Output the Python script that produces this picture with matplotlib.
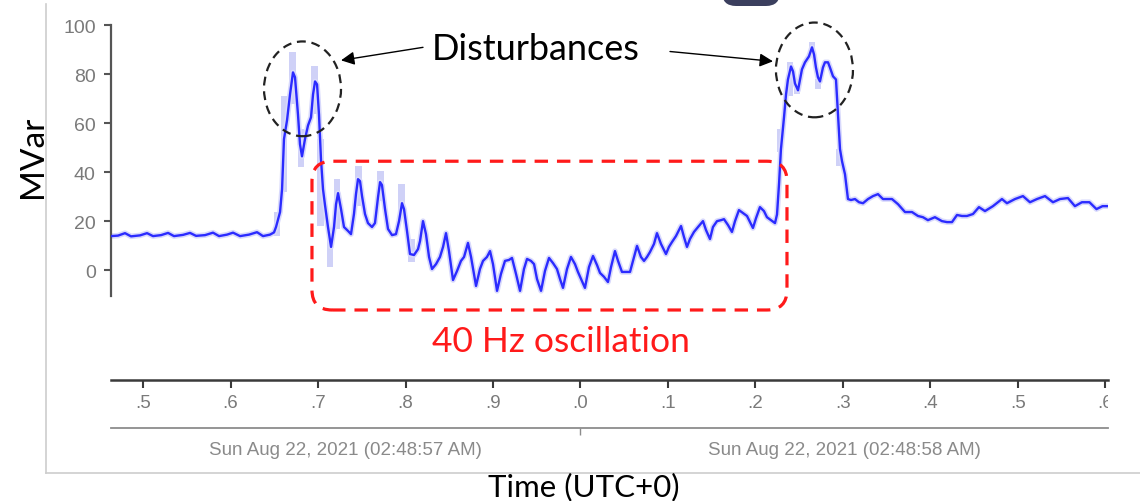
import numpy as np
import matplotlib
matplotlib.use("Agg")
import matplotlib.pyplot as plt
from matplotlib.patches import Ellipse, FancyBboxPatch
from matplotlib.lines import Line2D
from matplotlib.transforms import Affine2D, blended_transform_factory

W, H = 1140, 502

# time in ms after 02:48:57.000, reactive power in MVar
time_ms = [
    463.4, 471.4, 479.4, 486.3, 496.6, 504.6, 511.4, 520.6, 528.6, 535.4,
    545.7, 553.7, 560.6, 570.9, 580.0, 586.9, 596.0, 602.9, 610.9, 621.1,
    630.3, 637.1, 645.1, 649.7, 652.0, 656.6, 658.9, 661.1, 664.6, 668.0,
    671.4, 673.7, 677.1, 679.4, 681.7, 685.1, 688.6, 692.0, 694.3, 696.6,
    698.9, 701.1, 703.4, 705.7, 708.0, 711.4, 714.9, 718.3, 720.6, 722.9,
    726.3, 729.7, 734.3, 737.7, 741.1, 743.4, 745.7, 748.0, 750.3, 753.7,
    757.1, 761.7, 765.1, 768.6, 770.9, 773.1, 776.6, 780.0, 784.6, 789.1,
    792.6, 796.0, 798.3, 801.7, 805.1, 809.7, 814.3, 816.6, 820.0, 823.4,
    826.9, 830.3, 834.9, 839.4, 842.9, 846.3, 849.7, 854.3, 858.9, 863.4,
    866.9, 871.4, 874.9, 880.6, 885.1, 888.6, 893.1, 896.6, 900.0, 904.6,
    909.1, 913.7, 918.3, 921.7, 926.3, 930.9, 935.4, 938.9, 943.4, 946.9,
    950.3, 954.9, 959.4, 964.0, 968.6, 973.1, 976.6, 980.0, 984.6, 989.1,
    993.7, 997.1, 1001.7, 1005.1, 1009.7, 1014.3, 1018.9, 1022.3, 1026.9, 1031.4,
    1034.9, 1039.4, 1042.9, 1047.4, 1052.0, 1056.6, 1060.0, 1064.6, 1069.1, 1072.6,
    1076.0, 1079.4, 1084.0, 1087.4, 1092.0, 1097.7, 1101.1, 1104.6, 1109.1, 1114.9,
    1118.3, 1121.7, 1125.1, 1129.7, 1134.3, 1140.0, 1143.4, 1148.0, 1151.4, 1156.0,
    1160.6, 1164.0, 1168.6, 1173.1, 1176.6, 1181.1, 1185.7, 1190.3, 1193.7, 1197.1,
    1200.6, 1205.1, 1209.7, 1213.1, 1217.7, 1222.3, 1224.6, 1226.9, 1229.1, 1232.6,
    1234.9, 1237.1, 1240.6, 1242.9, 1245.1, 1248.6, 1250.9, 1253.1, 1256.6, 1261.1,
    1264.6, 1266.9, 1269.1, 1271.4, 1273.7, 1277.1, 1279.4, 1282.9, 1285.1, 1288.6,
    1292.0, 1294.3, 1296.6, 1298.9, 1302.3, 1305.7, 1309.1, 1313.7, 1318.3, 1322.9,
    1328.6, 1334.3, 1340.0, 1345.7, 1351.4, 1356.0, 1362.9, 1370.9, 1378.9, 1385.7,
    1391.4, 1397.1, 1405.1, 1413.1, 1418.9, 1424.6, 1430.3, 1436.0, 1441.7, 1448.6,
    1455.4, 1462.3, 1471.4, 1481.7, 1487.4, 1496.6, 1505.7, 1513.7, 1521.7, 1530.9,
    1540.0, 1548.0, 1557.1, 1565.1, 1573.1, 1581.7, 1589.7, 1596.6, 1602.9,
]
mvar = [
    14.0, 14.2, 15.2, 13.9, 14.3, 15.2, 14.0, 14.4, 15.3, 14.0,
    14.5, 15.3, 14.1, 14.4, 15.4, 14.0, 14.6, 15.4, 14.0, 14.6,
    15.6, 14.0, 14.6, 15.5, 17.7, 23.8, 33.1, 53.5, 61.2, 71.7,
    80.7, 78.7, 63.6, 51.4, 46.5, 53.5, 59.1, 62.4, 71.7, 77.0,
    75.8, 63.6, 45.3, 33.1, 26.6, 17.7, 9.6, 17.7, 27.0, 31.5,
    25.0, 17.7, 16.1, 14.8, 23.0, 31.1, 37.2, 36.4, 30.3, 23.0,
    19.3, 17.7, 19.3, 29.9, 36.0, 34.8, 25.0, 16.9, 14.4, 14.8,
    20.1, 27.4, 25.0, 16.1, 6.7, 6.3, 8.7, 12.0, 20.1, 14.8,
    5.5, 0.6, 2.6, 5.5, 9.6, 15.2, 7.9, -3.9, -0.2, 3.9,
    5.5, 11.2, 5.5, -6.3, 0.6, 3.9, 5.5, 7.9, 2.6, -8.3,
    -1.4, 3.9, 4.3, 5.1, -1.4, -8.3, 0.6, 4.7, 3.9, 2.6,
    -3.5, -8.3, -0.2, 5.1, 3.0, 0.6, -3.5, -7.1, 0.6, 5.5,
    2.6, -0.6, -4.3, -7.1, 1.4, 5.9, 2.2, -1.0, -2.6, -4.7,
    1.4, 7.9, 3.9, -0.6, -0.6, -0.6, 3.9, 10.0, 5.5, 3.9,
    5.5, 7.5, 10.8, 15.2, 10.8, 6.7, 9.6, 11.6, 14.0, 18.1,
    13.6, 9.6, 12.8, 15.7, 17.7, 20.1, 16.5, 12.8, 17.7, 20.1,
    20.5, 20.9, 18.5, 15.7, 20.1, 24.6, 23.4, 22.2, 19.7, 17.3,
    21.3, 25.8, 24.2, 21.7, 20.5, 19.3, 22.8, 35.2, 49.4, 62.4,
    71.7, 77.8, 83.1, 81.1, 76.2, 73.4, 77.8, 81.9, 84.8, 87.2,
    90.9, 88.0, 82.7, 78.7, 77.0, 82.7, 84.8, 84.8, 82.7, 79.1,
    77.8, 63.6, 49.4, 44.5, 39.2, 29.1, 28.7, 29.1, 27.8, 27.4,
    29.1, 30.3, 31.1, 29.1, 29.1, 29.1, 27.0, 23.8, 23.8, 22.2,
    21.7, 20.5, 21.7, 20.1, 19.7, 19.7, 22.6, 22.2, 22.2, 23.0,
    25.8, 24.2, 26.2, 29.1, 27.4, 29.1, 30.3, 27.8, 29.1, 30.3,
    27.8, 29.1, 29.5, 26.2, 27.8, 27.8, 25.0, 26.2, 26.2,
]

# min/max envelope of the downsampled trace
env_ms = [653.1, 661.1, 670.9, 680.6, 696.0, 702.9, 713.7, 721.7, 746.3,
          771.4, 795.4, 806.9, 1228.0, 1239.4, 1247.4, 1264.6, 1271.9, 1296.0]
env_lo = [14.0, 32.0, 67.7, 42.1, 63.6, 18.1, 1.4, 16.9, 26.2,
          28.3, 24.2, 3.5, 48.2, 70.9, 71.7, 88.8, 73.8, 42.5]
env_hi = [23.8, 70.9, 88.8, 57.5, 83.1, 53.5, 14.0, 37.2, 42.5,
          40.4, 35.2, 12.8, 57.5, 84.8, 77.8, 92.9, 77.8, 49.4]

y_ticks = [0, 20, 40, 60, 80, 100]
x_ticks_ms = [500, 600, 700, 800, 900, 1000, 1100, 1200, 1300, 1400, 1500, 1600]
x_tick_labels = [".5", ".6", ".7", ".8", ".9", ".0", ".1", ".2", ".3", ".4", ".5", ".6"]
second_starts = [0.0, 1.0]
date_labels = ["Sun Aug 22, 2021 (02:48:57 AM)", "Sun Aug 22, 2021 (02:48:58 AM)"]
x_range = (0.4634, 1.6029)

t = np.array(time_ms) / 1000
env_t = np.array(env_ms) / 1000
env_lo = np.array(env_lo)
env_hi = np.array(env_hi)

ARIAL = "Liberation Sans"
CAL = "Lato"

fig = plt.figure(figsize=(W / 100, H / 100), dpi=100)
pix = Affine2D().scale(1 / W, -1 / H).translate(0, 1) + fig.transFigure


def box(x0, y0, x1, y1):
    return [x0 / W, 1 - y1 / H, (x1 - x0) / W, (y1 - y0) / H]


# screenshot frame and stray button
fig.add_artist(Line2D([46, 46], [5, 474], transform=pix, color="#cdcdcd", lw=1.2))
fig.add_artist(Line2D([46, 1140], [474, 474], transform=pix, color="#cdcdcd", lw=1.2))
fig.add_artist(FancyBboxPatch((722, -30), 58, 37, boxstyle="round,pad=0,rounding_size=14",
                              transform=pix, color="#3b3f5e", lw=0))

# main chart
ax = fig.add_axes(box(111, 26, 1108, 297))
ax.set_xlim(*x_range)
ax.set_ylim(-10.4, 100)
for s in ["top", "right", "bottom"]:
    ax.spines[s].set_visible(False)
ax.spines["left"].set_color("#555555")
ax.spines["left"].set_linewidth(1.6)
ax.set_xticks([])
ax.set_yticks(y_ticks)
ax.tick_params(axis="y", length=5, width=1.5, color="#555555",
               labelcolor="#7a7a7a", labelsize=14, pad=6)
for lab in ax.get_yticklabels():
    lab.set_fontfamily(ARIAL)

ax.bar(env_t, env_hi - env_lo, bottom=env_lo, width=0.007, color="#cfd1f7", zorder=1)
ax.plot(t, mvar, color="#d8d9fc", lw=4.0, zorder=2, solid_joinstyle="round")
ax.plot(t, mvar, color="#2b2bff", lw=1.7, zorder=3, solid_joinstyle="round")

# annotations
for cx, cy in [(0.6823, 74.0), (1.2674, 81.7)]:
    ax.add_patch(Ellipse((cx, cy), 0.088, 38.6, fill=False, ec="#222222", lw=1.6,
                         ls=(0, (4, 2.6)), clip_on=False, zorder=4))

ax.add_patch(FancyBboxPatch((0.6931, -16.1), 1.2360 - 0.6931, 44.5 + 16.1,
                            boxstyle="round,pad=0,rounding_size=0.023", mutation_aspect=355.7,
                            fill=False, ec="#ff1a1a", lw=2.3, ls=(0, (4.2, 2.8)),
                            clip_on=False, zorder=4))

arrow = dict(arrowstyle="-|>", color="black", lw=1, mutation_scale=20, shrinkA=0, shrinkB=0)
ax.annotate("", xy=(0.7263, 85.6), xytext=(0.8200, 90.9), arrowprops=arrow,
            annotation_clip=False)
ax.annotate("", xy=(1.2200, 85.2), xytext=(1.1023, 89.2), arrowprops=arrow,
            annotation_clip=False)
ax.text(0.9491, 90.6, "Disturbances", ha="center", va="center", fontsize=26,
        fontfamily=CAL, color="black", clip_on=False)
ax.text(0.9777, -28.7, "40 Hz oscillation", ha="center", va="center", fontsize=25.5,
        fontfamily=CAL, color="#ff1a1a", clip_on=False)

# time axis band
tax = fig.add_axes(box(111, 381, 1108, 429))
tax.set_xlim(*x_range)
tax.set_ylim(0, 1)
tax.patch.set_visible(False)
tax.spines["left"].set_visible(False)
tax.spines["right"].set_visible(False)
tax.spines["top"].set_color("#3a3a3a")
tax.spines["top"].set_linewidth(1.8)
tax.spines["bottom"].set_color("#8c8c8c")
tax.spines["bottom"].set_linewidth(1.3)
tax.set_yticks([])
tax.xaxis.remove_overlapping_locs = False
tax.set_xticks(np.array(x_ticks_ms) / 1000)
tax.set_xticks([1.0], minor=True)
tax.tick_params(which="major", top=True, bottom=False, labeltop=False, labelbottom=False,
                direction="in", length=5.5, width=1.5, color="#3a3a3a")
tax.tick_params(which="minor", top=False, bottom=True, direction="out",
                length=5, width=1, color="#8c8c8c")
btr = blended_transform_factory(tax.transData, tax.transAxes)
for tk, lab in zip(x_ticks_ms, x_tick_labels):
    tax.text(tk / 1000, 0.54, lab, transform=btr, ha="center", va="center",
             fontsize=13.5, fontfamily=ARIAL, color="#7a7a7a", clip_on=True)
for s0, lab in zip(second_starts, date_labels):
    c = (max(s0, x_range[0]) + min(s0 + 1, x_range[1])) / 2
    tax.text(c, -0.44, lab, transform=btr, ha="center", va="center",
             fontsize=13.5, fontfamily=ARIAL, color="#8a8a8a", clip_on=False)

fig.text(33 / W, 1 - 157 / H, "MVar", rotation=90, ha="center", va="center",
         fontsize=24, fontfamily=CAL, color="black")
fig.text(584 / W, 1 - 487 / H, "Time (UTC+0)", ha="center", va="center",
         fontsize=22.5, fontfamily=CAL, color="black")

fig.savefig("out.png", dpi=100)
